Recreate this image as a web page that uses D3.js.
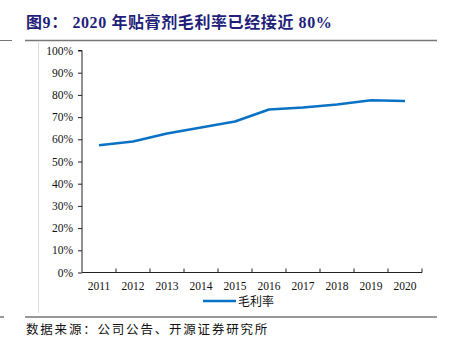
<!DOCTYPE html>
<html lang="zh">
<head>
    <meta charset="UTF-8">
    <title>贴膏剂毛利率</title>
    <script src="https://d3js.org/d3.v7.min.js"></script>
    <style>
        body { margin: 0; background: #fff; }
        svg { display: block; }
    </style>
</head>
<body>
<svg width="452" height="347"></svg>
<script type="text/javascript">

    // data
    var years = ["2011", "2012", "2013", "2014", "2015", "2016", "2017", "2018", "2019", "2020"];
    var grossMargin = [57.3, 59.0, 62.6, 65.3, 68.0, 73.4, 74.3, 75.7, 77.6, 77.2];
    var yTicks = [0, 10, 20, 30, 40, 50, 60, 70, 80, 90, 100];
    var seriesName = "毛利率";

    var width = 452, height = 347;
    var svg = d3.select("svg");

    var serif = "'Liberation Serif', 'Times New Roman', 'Noto Sans CJK SC', serif";
    var cjk = "'Noto Sans CJK SC', sans-serif";

    // frame: title + rules
    svg.append("text")
        .attr("x", 26).attr("y", 28)
        .attr("fill", "#1f1f7a")
        .style("font-family", serif)
        .style("font-weight", "bold")
        .style("font-size", "16px")
        .style("letter-spacing", "0.6px")
        .text("图9： 2020 年贴膏剂毛利率已经接近 80%");

    svg.append("line").attr("x1", 0).attr("x2", 12).attr("y1", 40.5).attr("y2", 40.5)
        .attr("stroke", "#777").attr("stroke-width", 1);
    svg.append("line").attr("x1", 25).attr("x2", 437).attr("y1", 40.5).attr("y2", 40.5)
        .attr("stroke", "#777").attr("stroke-width", 1.5);
    svg.append("line").attr("x1", 38.5).attr("x2", 38.5).attr("y1", 42).attr("y2", 313)
        .attr("stroke", "#ddd").attr("stroke-width", 1);
    svg.append("line").attr("x1", 0).attr("x2", 4).attr("y1", 317).attr("y2", 317)
        .attr("stroke", "#333").attr("stroke-width", 1);
    svg.append("line").attr("x1", 25).attr("x2", 437).attr("y1", 317).attr("y2", 317)
        .attr("stroke", "#333").attr("stroke-width", 1);

    // scales
    var x = d3.scaleBand().domain(years).range([82, 422]);
    var y = d3.scaleLinear().domain([0, 100]).range([272.5, 50.5]);

    // y axis
    var yAxis = svg.append("g")
        .attr("transform", "translate(82,0)")
        .call(d3.axisLeft(y).tickValues(yTicks).tickSize(4).tickFormat(function(d) { return d + "%"; }));
    yAxis.select(".domain").attr("stroke", "#222").attr("d", "M-4," + y(100) + "H0V" + y(0));
    yAxis.selectAll(".tick line").attr("stroke", "#222");
    yAxis.selectAll(".tick text")
        .attr("x", -9)
        .attr("fill", "#111")
        .style("font-family", serif)
        .style("font-size", "11.5px");

    // x axis: ticks on band boundaries
    var xAxis = svg.append("g").attr("transform", "translate(0," + y(0) + ")");
    xAxis.append("line")
        .attr("x1", 82).attr("x2", 422)
        .attr("stroke", "#222");
    xAxis.selectAll(".xt")
        .data(years.slice(1).concat(["end"]))
        .enter().append("line")
        .attr("x1", function(d, i) { return x(years[0]) + (i + 1) * x.bandwidth(); })
        .attr("x2", function(d, i) { return x(years[0]) + (i + 1) * x.bandwidth(); })
        .attr("y1", 0).attr("y2", -4)
        .attr("stroke", "#222");
    xAxis.selectAll(".xl")
        .data(years)
        .enter().append("text")
        .attr("x", function(d) { return x(d) + x.bandwidth() / 2; })
        .attr("y", 17)
        .attr("text-anchor", "middle")
        .attr("fill", "#111")
        .style("font-family", serif)
        .style("font-size", "11.5px")
        .text(function(d) { return d; });

    // line
    var line = d3.line()
        .x(function(d, i) { return x(years[i]) + x.bandwidth() / 2; })
        .y(function(d) { return y(d); });

    svg.append("path")
        .datum(grossMargin)
        .attr("d", line)
        .attr("fill", "none")
        .attr("stroke", "#0a72c4")
        .attr("stroke-width", 2.5)
        .attr("stroke-linejoin", "round");

    // legend
    svg.append("line")
        .attr("x1", 203).attr("x2", 236).attr("y1", 301).attr("y2", 301)
        .attr("stroke", "#0a72c4").attr("stroke-width", 2.5);
    svg.append("text")
        .attr("x", 238).attr("y", 305.5)
        .attr("fill", "#111")
        .style("font-family", cjk)
        .style("font-size", "12px")
        .text(seriesName);

    // source
    svg.append("text")
        .attr("x", 26).attr("y", 334)
        .attr("fill", "#111")
        .style("font-family", cjk)
        .style("font-size", "12.5px")
        .style("letter-spacing", "1.8px")
        .text("数据来源：公司公告、开源证券研究所");

</script>
</body>
</html>
